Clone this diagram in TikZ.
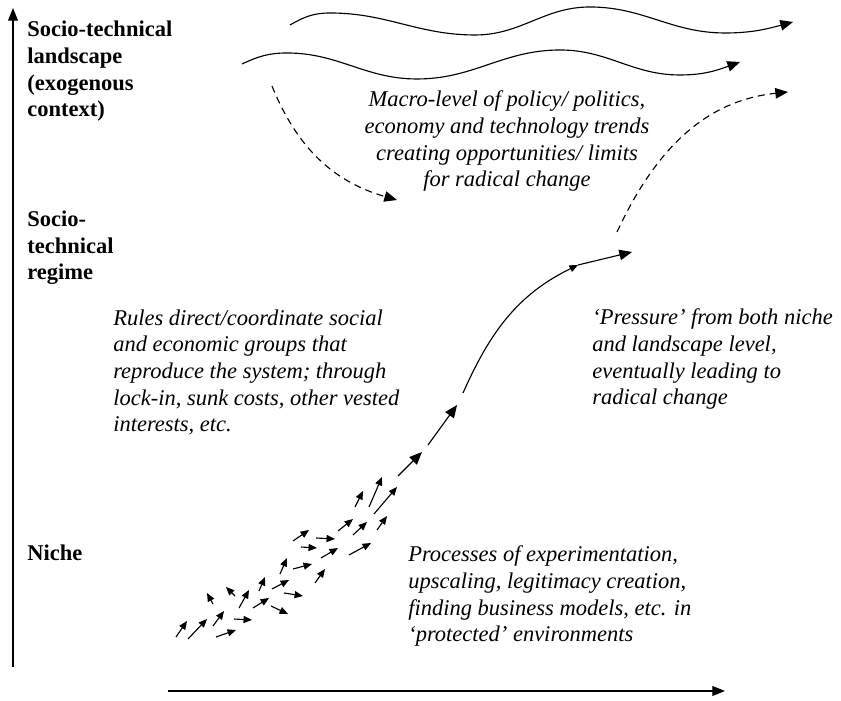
\documentclass[tikz,border=0pt]{standalone}
\usepackage{fontspec}
\setmainfont{Liberation Serif}
\usetikzlibrary{arrows.meta}

\tikzset{
  level/.style={font=\bfseries\fontsize{16}{19}\selectfont, align=left, anchor=base west, inner sep=0},
  note/.style={font=\itshape\fontsize{16}{19}\selectfont, align=left, anchor=base west, inner sep=0},
  axis/.style={line width=0.8pt, -{Triangle[length=9pt,width=7pt]}},
  push/.style={line width=0.8pt, -{Triangle[length=9pt,width=7.5pt]}},
  sprout/.style={line width=0.8pt, -{Triangle[length=6pt,width=5pt]}},
  wave/.style={line width=0.8pt, -{Triangle[length=9pt,width=7.5pt]}},
  trend/.style={line width=0.8pt, dash pattern=on 5pt off 3.5pt, -{Triangle[length=9pt,width=7.5pt]}},
}

\begin{document}
\begin{tikzpicture}[x=0.025cm, y=0.025cm]
        \useasboundingbox (0,0) rectangle (841,701);

        % axes
        \coordinate (origin) at (13,34);
        \coordinate (up) at (13,693);
        \coordinate (tstart) at (168,10);
        \coordinate (tend) at (725,10);
        \draw[axis] (origin) -- (up);
        \draw[axis] (tstart) -- (tend);

        % levels (placed on the baseline of the last line)
        \node[level] (landscape) at (27,584) {Socio-technical\\landscape\\(exogenous\\context)};
        \node[level] (regime) at (27,421) {Socio-\\technical\\regime};
        \node[level] (niche) at (27,140) {Niche};

        % descriptions
        \node[note, align=center, anchor=base] (macro) at (507,514) {Macro-level of policy/ politics,\\economy and technology trends\\creating opportunities/ limits\\for radical change};
        \node[note] (rules) at (113,269) {Rules direct/coordinate social\\and economic groups that\\reproduce the system; through\\lock-in, sunk costs, other vested\\interests, etc.};
        \node[note] (pressure) at (592,296) {`Pressure' from both niche\\and landscape level,\\eventually leading to\\radical change};
        \node[note] (processes) at (408,59) {Processes of experimentation,\\upscaling, legitimacy creation,\\finding business models, etc. in\\`protected' environments};

        % landscape trends
        \draw[wave] (290,676) to[out=30,in=180] (330,688) to[out=0,in=180] (475,666) to[out=0,in=180] (590,694) to[out=0,in=180] (725,668) to[out=0,in=195] (793,679);
        \draw[wave] (242,637) to[out=25,in=180] (287,648) to[out=0,in=180] (417,622) to[out=0,in=180] (560,651) to[out=0,in=180] (680,626) to[out=0,in=200] (740,639);
        \draw[trend] (272,615) to[out=-68,in=164] (397,501);
        \draw[trend] (617,469) to[out=65,in=186] (788,609);

        % breakthrough
        \coordinate (b1) at (398,225);
        \coordinate (b2) at (422,249);
        \coordinate (b3) at (428,256);
        \coordinate (b4) at (457,296);
        \coordinate (c1) at (463,308);
        \coordinate (c2) at (578,436);
        \coordinate (c3) at (632,449);
        \draw[push] (b1) -- (b2);
        \draw[push] (b3) -- (b4);
        \draw[sprout] (c1) to[out=66,in=206] (c2);
        \draw[push] (c2) -- (c3);

        % niche experiments
        \draw[sprout] (176,64) -- (187,80);
        \draw[sprout] (188,62) -- (207,82);
        \draw[sprout] (213,75) -- (224,90);
        \draw[sprout] (216,64) -- (236,71);
        \draw[sprout] (234,82) -- (252,81);
        \draw[sprout] (213,97) -- (207,108);
        \draw[sprout] (235,105) -- (226,114);
        \draw[sprout] (239,93) -- (249,111);
        \draw[sprout] (253,93) -- (269,103);
        \draw[sprout] (271,95) -- (288,87);
        \draw[sprout] (259,110) -- (265,124);
        \draw[sprout] (272,112) -- (289,121);
        \draw[sprout] (284,108) -- (303,105);
        \draw[sprout] (280,127) -- (287,143);
        \draw[sprout] (293,132) -- (312,137);
        \draw[sprout] (315,118) -- (325,132);
        \draw[sprout] (301,154) -- (317,153);
        \draw[sprout] (293,160) -- (309,171);
        \draw[sprout] (316,163) -- (335,162);
        \draw[sprout] (321,143) -- (338,153);
        \draw[sprout] (349,146) -- (371,158);
        \draw[sprout] (338,170) -- (353,182);
        \draw[sprout] (353,166) -- (367,179);
        \draw[sprout] (377,171) -- (387,185);
        \draw[sprout] (355,194) -- (363,210);
        \draw[sprout] (369,194) -- (382,224);
        \draw[sprout] (374,187) -- (397,214);
\end{tikzpicture}
\end{document}
